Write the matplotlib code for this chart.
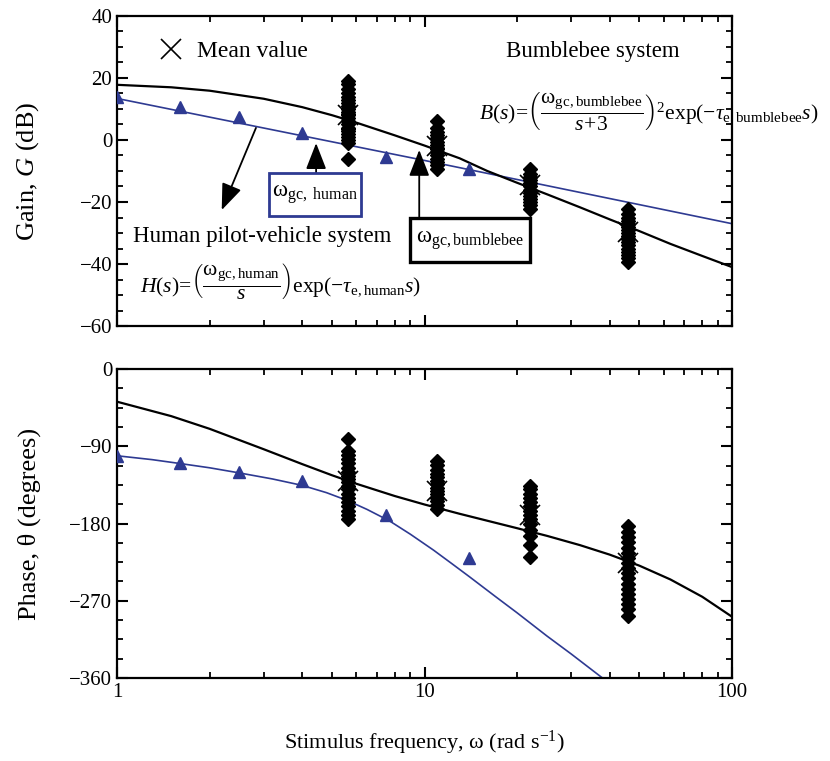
import matplotlib
matplotlib.use('Agg')
import matplotlib.pyplot as plt
from matplotlib.patches import Rectangle
from matplotlib.ticker import FixedLocator, NullFormatter, MultipleLocator

plt.rcParams.update({
    'font.family': ['Liberation Serif', 'DejaVu Serif'],
    'font.size': 16,
    'mathtext.fontset': 'custom',
    'mathtext.rm': 'Liberation Serif',
    'mathtext.it': 'Liberation Serif:italic',
    'mathtext.bf': 'Liberation Serif:bold',
    'axes.linewidth': 1.6,
})

BLUE = '#2E3A92'

# human pilot-vehicle measurements (triangles)
human_w = [1.0, 1.6, 2.5, 4.0, 7.5, 14.0]
human_gain = [14.0, 10.6, 7.3, 2.4, -5.4, -9.4]
human_phase = [-101, -110, -120, -130.5, -170, -220.5]

# human model curves
hfit_gain_w = [1.0, 10.0, 100.0]
hfit_gain = [13.4, -6.6, -27.0]
hfit_phase_w = [1.0, 1.3, 1.6, 2.0, 2.5, 3.2, 4.0, 4.8, 5.6, 6.5, 7.7, 9.0, 10.7, 12.3,
                14.0, 17.0, 20.0, 25.0, 30.0, 37.6, 40.0]
hfit_phase = [-101, -105.5, -110, -115, -121, -128, -135.5, -144, -153, -163.5, -177,
              -192.5, -211, -227, -242, -265, -284, -311, -332, -359, -366]

# bumblebee model curves
bfit_w = [1, 1.5, 2, 3, 4, 5, 6, 8, 10, 13, 16, 20, 25, 32, 40, 50, 63, 80, 100]
bfit_gain = [17.8, 17.0, 15.9, 13.3, 10.6, 8.0, 5.6, 1.5, -1.8, -5.9, -10.0, -13.8,
             -17.5, -21.7, -25.6, -29.4, -33.5, -37.4, -41.0]
bfit_phase = [-38.0, -54.8, -69.6, -93.4, -110.7, -123.7, -133.6, -147.9, -157.8, -168.6,
              -176.7, -185.4, -194.3, -205.1, -216.2, -229.1, -245.1, -265.3, -288.6]

# bumblebee individual measurements (diamonds) and means (crosses)
bee_w = [5.65, 11.0, 22.0, 46.0]
bee_gain = [
    [19, 18, 16.5, 15, 14, 13, 12, 11, 10, 9, 8.5, 8, 7, 6, 5, 4, 3.5, 3, 2, 1, 0, -1, -6],
    [6, 4, 2.5, 1.5, 0.5, -0.5, -1.5, -2.5, -3, -4, -5, -6, -7, -8, -9.4],
    [-9.5, -11, -12, -13, -14, -15, -16, -17, -18, -19, -20, -21, -22.3],
    [-22.3, -24, -25, -26, -27, -28, -29, -30, -31, -32, -33, -34, -35, -36, -37, -38, -39.4],
]
bee_phase = [
    [-82, -95, -100, -105, -110, -115, -120, -124, -128, -132, -136, -140, -145, -150,
     -155, -160, -165, -170, -175],
    [-107, -112, -118, -122, -126, -130, -134, -138, -142, -146, -150, -154, -158, -163],
    [-136, -140, -145, -150, -155, -160, -165, -170, -175, -180, -187, -195, -205, -219],
    [-183, -190, -196, -202, -208, -214, -220, -226, -232, -238, -244, -250, -256, -262,
     -268, -274, -280, -288],
]
bee_gain_mean = [8.0, -2.0, -14.5, -29.6]
bee_phase_mean = [-130.5, -142, -170, -226.5]

fig = plt.figure(figsize=(8.3, 7.61), dpi=100)
ax1 = fig.add_axes([0.141, 0.5716, 0.741, 0.4074])
ax2 = fig.add_axes([0.141, 0.109, 0.741, 0.406])

for ax in (ax1, ax2):
    ax.set_xscale('log')
    ax.set_xlim(1, 100)
    ax.xaxis.set_major_locator(FixedLocator([1, 10, 100]))
    ax.xaxis.set_minor_locator(FixedLocator([m * d for d in (1, 10) for m in range(2, 10)]))
    ax.xaxis.set_minor_formatter(NullFormatter())
    ax.tick_params(which='both', direction='in', top=True, right=True, labelsize=15)
    ax.tick_params(which='major', length=8, width=1.5)
    ax.tick_params(which='minor', length=4.5, width=1.3)

# gain panel
ax1.plot(hfit_gain_w, hfit_gain, color=BLUE, lw=1.2, zorder=2)
ax1.plot(bfit_w, bfit_gain, color='black', lw=1.6, zorder=2)
ax1.plot(human_w, human_gain, '^', color=BLUE, ms=8.5, zorder=3)
for w, vals in zip(bee_w, bee_gain):
    ax1.plot([w] * len(vals), vals, 'D', color='black', ms=7.5, zorder=4)
ax1.plot(bee_w, bee_gain_mean, 'x', color='black', ms=14, mew=1.2, zorder=5,
         label='Mean value')
ax1.set_ylim(-60, 40)
ax1.yaxis.set_major_locator(MultipleLocator(20))
ax1.yaxis.set_minor_locator(MultipleLocator(5))
ax1.set_xticklabels([])
ax1.set_ylabel('Gain, $G$ (dB)', fontsize=19)
ax1.yaxis.set_label_coords(-0.124, 0.5)

ax1.legend(loc='upper left', bbox_to_anchor=(0.053, 0.952), frameon=False, fontsize=17,
           handlelength=1.0, handletextpad=0.6, borderaxespad=0)

ax1.text(0.774, 0.884, 'Bumblebee system', transform=ax1.transAxes, ha='center', va='center',
         fontsize=16.5)
ax1.text(0.589, 0.69,
         r'$B(s)\!=\!\left(\dfrac{\mathrm{ω}_{\mathrm{gc,bumblebee}}}{s\!+\!3}\right)^{2}'
         r'\mathrm{exp}(-\tau_{\mathrm{e,bumblebee}}s)$',
         transform=ax1.transAxes, ha='left', va='center', fontsize=15.5, clip_on=False)
ax1.text(0.026, 0.29, 'Human pilot-vehicle system', transform=ax1.transAxes,
         ha='left', va='center', fontsize=16.5)
ax1.text(0.038, 0.145,
         r'$H(s)\!=\!\left(\dfrac{\mathrm{ω}_{\mathrm{gc,human}}}{s}\right)'
         r'\mathrm{exp}(-\tau_{\mathrm{e,human}}s)$',
         transform=ax1.transAxes, ha='left', va='center', fontsize=15.5)

# crossover boxes and arrows
ax1.add_patch(Rectangle((3.12, -24.5), 6.22 - 3.12, 13.9, fill=False, ec=BLUE, lw=2.0, zorder=6))
ax1.text(4.4, -17.5, r'$\mathrm{ω}_{\mathrm{gc,\ human}}$', ha='center', va='center', fontsize=16.5)
ax1.add_patch(Rectangle((8.97, -39.4), 22.0 - 8.97, 14.2, fill=False, ec='black', lw=2.4, zorder=6))
ax1.text(14.1, -32.3, r'$\mathrm{ω}_{\mathrm{gc,bumblebee}}$', ha='center', va='center', fontsize=16.5)

arrow = dict(arrowstyle='-|>,head_length=0.9,head_width=0.35', color='black', lw=1.3,
             shrinkA=0, shrinkB=0, mutation_scale=18)
ax1.annotate('', xy=(4.44, -1.0), xytext=(4.44, -10.6), arrowprops=arrow)
ax1.annotate('', xy=(9.61, -3.2), xytext=(9.61, -25.2), arrowprops=arrow)
ax1.annotate('', xy=(2.19, -22.6), xytext=(2.83, 3.9), arrowprops=arrow)

# phase panel
ax2.plot(hfit_phase_w, hfit_phase, color=BLUE, lw=1.2, zorder=2)
ax2.plot(bfit_w, bfit_phase, color='black', lw=1.6, zorder=2)
ax2.plot(human_w, human_phase, '^', color=BLUE, ms=8.5, zorder=3)
for w, vals in zip(bee_w, bee_phase):
    ax2.plot([w] * len(vals), vals, 'D', color='black', ms=7.5, zorder=4)
ax2.plot(bee_w, bee_phase_mean, 'x', color='black', ms=14, mew=1.2, zorder=5)
ax2.set_ylim(-360, 0)
ax2.set_yticks([0, -90, -180, -270, -360])
ax2.yaxis.set_minor_locator(MultipleLocator(22.5))
ax2.set_xticklabels(['1', '10', '100'])
ax2.set_ylabel('Phase, θ (degrees)', fontsize=19)
ax2.yaxis.set_label_coords(-0.124, 0.5)
ax2.set_xlabel(r'Stimulus frequency, ω (rad s$^{\mathrm{-1}}$)', fontsize=16, labelpad=19)

fig.savefig('out.png', dpi=100)
